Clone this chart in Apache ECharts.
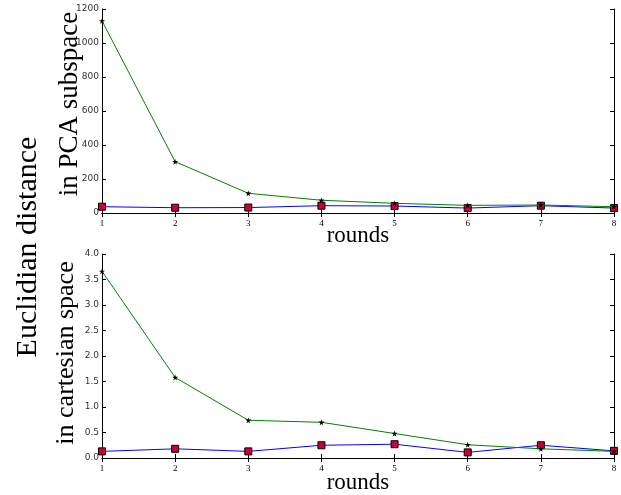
<!DOCTYPE html>
<html><head><meta charset="utf-8">
<script src="https://cdn.jsdelivr.net/npm/echarts@6/dist/echarts.min.js"></script>
<style>html,body{margin:0;padding:0;background:#fff}#c{width:621px;height:495px}</style>
</head><body><div id="c"></div>
<script>
const rounds = [1, 2, 3, 4, 5, 6, 7, 8];
const pcaGreen = [1130, 302, 116, 75, 57, 45, 47, 37];
const pcaBlue = [37, 31, 32, 43, 41, 29, 43, 29];
const cartGreen = [3.66, 1.58, 0.74, 0.70, 0.48, 0.26, 0.18, 0.13];
const cartBlue = [0.13, 0.18, 0.13, 0.25, 0.27, 0.11, 0.25, 0.14];
const pcaTicks = [0, 200, 400, 600, 800, 1000, 1200];
const cartTicks = [0.0, 0.5, 1.0, 1.5, 2.0, 2.5, 3.0, 3.5, 4.0];

const star = 'path://M50,0 L61,35 L98,35 L68,57 L79,91 L50,70 L21,91 L32,57 L2,35 L39,35 Z';
const serif = '"Liberation Serif", "DejaVu Serif", serif';
const sans = '"DejaVu Sans", sans-serif';

function pairs(v) { return rounds.map((r, i) => [r, v[i]]); }

function xAxes(gi, gap) {
  const base = {
    gridIndex: gi, type: 'value', min: 1, max: 8, interval: 1,
    axisLine: { show: true, lineStyle: { color: '#000', width: 1 } },
    axisTick: { show: true, inside: true, length: 4, lineStyle: { color: '#000' } },
    splitLine: { show: false }
  };
  return [
    Object.assign({}, base, {
      position: 'bottom',
      name: 'rounds', nameLocation: 'middle', nameGap: gap, nameMoveOverlap: false,
      nameTextStyle: { fontFamily: serif, fontSize: 23, color: '#000' },
      axisLabel: { fontFamily: serif, fontSize: 9, color: '#000', margin: 6 }
    }),
    Object.assign({}, base, { position: 'top', axisLabel: { show: false } })
  ];
}

function yAxes(gi, ticks, fmt) {
  const base = {
    gridIndex: gi, type: 'value', min: ticks[0], max: ticks[ticks.length - 1],
    interval: ticks[1] - ticks[0],
    axisLine: { show: true, lineStyle: { color: '#000', width: 1 } },
    axisTick: { show: true, inside: true, length: 4, lineStyle: { color: '#000' } },
    splitLine: { show: false }
  };
  return [
    Object.assign({}, base, {
      position: 'left',
      axisLabel: { fontFamily: sans, fontSize: 9, color: '#333', margin: 3, formatter: fmt }
    }),
    Object.assign({}, base, { position: 'right', axisLabel: { show: false } })
  ];
}

function vtext(txt, x, y, fs) {
  return { type: 'text', x: x, y: y, rotation: Math.PI / 2,
    style: { text: txt, font: fs + 'px ' + serif, fill: '#000',
      textAlign: 'center', textVerticalAlign: 'middle' } };
}

const greenStyle = { type: 'line', symbol: star, symbolSize: 6,
  lineStyle: { color: '#008000', width: 1 }, itemStyle: { color: '#000' }, z: 3 };
const blueStyle = { type: 'line', symbol: 'rect', symbolSize: 7,
  lineStyle: { color: '#0000ff', width: 1 },
  itemStyle: { color: '#cc0033', borderColor: '#000', borderWidth: 1 }, z: 2 };

const chart = echarts.init(document.getElementById('c'));
chart.setOption({
  animation: false,
  grid: [
    { left: 102, top: 9, width: 512, height: 204, outerBoundsMode: 'none', containLabel: false },
    { left: 102, top: 254, width: 512, height: 204, outerBoundsMode: 'none', containLabel: false }
  ],
  xAxis: xAxes(0, 11).concat(xAxes(1, 13)),
  yAxis: yAxes(0, pcaTicks, v => String(v))
    .concat(yAxes(1, cartTicks, v => v.toFixed(1))),
  series: [
    Object.assign({}, blueStyle, { xAxisIndex: 0, yAxisIndex: 0, data: pairs(pcaBlue) }),
    Object.assign({}, greenStyle, { xAxisIndex: 0, yAxisIndex: 0, data: pairs(pcaGreen) }),
    Object.assign({}, blueStyle, { xAxisIndex: 2, yAxisIndex: 2, data: pairs(cartBlue) }),
    Object.assign({}, greenStyle, { xAxisIndex: 2, yAxisIndex: 2, data: pairs(cartGreen) })
  ],
  graphic: [
    vtext('Euclidian distance', 28, 247, 30),
    vtext('in PCA subspace', 70, 104, 27),
    vtext('in cartesian space', 66, 353, 26)
  ]
});
</script></body></html>
